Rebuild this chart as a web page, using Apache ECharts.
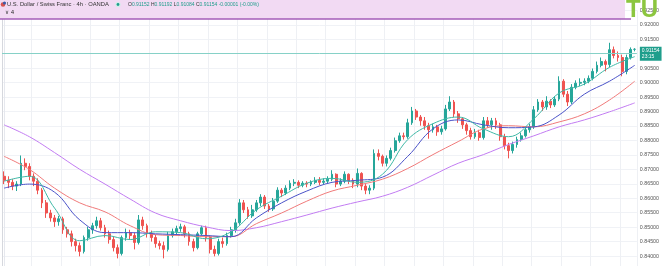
<!DOCTYPE html>
<html><head><meta charset="utf-8">
<script src="https://cdn.jsdelivr.net/npm/echarts@6/dist/echarts.min.js"></script>
<style>html,body{margin:0;padding:0;background:#fff;overflow:hidden;}#c{width:662px;height:273px;}</style>
</head><body><div id="c"></div>
<script>
const opens = [
.8676,.8662,.8655,.8642,.8649,.8721,.8710,.8676,.8659,.8628,
.8584,.8549,.8532,.8519,.8529,.8491,.8477,.8450,.8436,.8416,
.8464,.8491,.8505,.8522,.8498,.8477,.8457,.8429,.8409,.8464,
.8481,.8471,.8447,.8525,.8505,.8477,.8464,.8443,.8436,.8423,
.8471,.8484,.8495,.8501,.8477,.8450,.8429,.8477,.8498,.8464,
.8423,.8409,.8450,.8443,.8471,.8491,.8515,.8584,.8560,.8539,
.8560,.8584,.8604,.8573,.8563,.8590,.8628,.8618,.8635,.8652,
.8655,.8645,.8652,.8649,.8655,.8662,.8655,.8659,.8666,.8683,
.8649,.8659,.8683,.8662,.8649,.8686,.8642,.8628,.8635,.8755,
.8745,.8721,.8738,.8765,.8799,.8816,.8813,.8861,.8902,.8881,
.8868,.8851,.8837,.8847,.8830,.8840,.8909,.8933,.8892,.8875,
.8854,.8834,.8813,.8827,.8810,.8868,.8854,.8868,.8854,.8813,
.8782,.8765,.8786,.8803,.8816,.8837,.8847,.8906,.8933,.8916,
.8936,.8923,.8943,.9005,.8960,.8933,.8984,.8998,.9001,.9005,
.9015,.9039,.9060,.9073,.9063,.9114,.9094,.9087,.9039,.9087,
.91152];
const closes = [
.8662,.8655,.8642,.8649,.8721,.8710,.8676,.8659,.8628,.8584,
.8549,.8532,.8519,.8529,.8491,.8477,.8450,.8436,.8416,.8464,
.8491,.8505,.8522,.8498,.8477,.8457,.8429,.8409,.8464,.8481,
.8471,.8447,.8525,.8505,.8477,.8464,.8443,.8436,.8423,.8471,
.8484,.8495,.8501,.8477,.8450,.8429,.8477,.8498,.8464,.8423,
.8409,.8450,.8443,.8471,.8491,.8515,.8584,.8560,.8539,.8560,
.8584,.8604,.8573,.8563,.8590,.8628,.8618,.8635,.8652,.8655,
.8645,.8652,.8649,.8655,.8662,.8655,.8659,.8666,.8683,.8649,
.8659,.8683,.8662,.8649,.8686,.8642,.8628,.8635,.8755,.8745,
.8721,.8738,.8765,.8799,.8816,.8813,.8861,.8902,.8881,.8868,
.8851,.8837,.8847,.8830,.8840,.8909,.8933,.8892,.8875,.8854,
.8834,.8813,.8827,.8810,.8868,.8854,.8868,.8854,.8813,.8782,
.8765,.8786,.8803,.8816,.8837,.8847,.8906,.8933,.8916,.8936,
.8923,.8943,.9005,.8960,.8933,.8984,.8998,.9001,.9005,.9015,
.9039,.9060,.9073,.9063,.9114,.9094,.9087,.9039,.9087,.9115,
.91154];
const lows = [
.8649,.8635,.8628,.8625,.8642,.8697,.8662,.8642,.8614,.8566,
.8532,.8519,.8501,.8505,.8477,.8464,.8433,.8416,.8399,.8409,
.8453,.8477,.8495,.8488,.8464,.8443,.8416,.8392,.8402,.8453,
.8457,.8423,.8440,.8491,.8464,.8450,.8429,.8423,.8392,.8416,
.8464,.8474,.8484,.8464,.8436,.8416,.8423,.8471,.8450,.8409,
.8399,.8402,.8429,.8436,.8464,.8481,.8508,.8549,.8529,.8532,
.8553,.8573,.8563,.8553,.8556,.8584,.8604,.8611,.8628,.8642,
.8635,.8638,.8638,.8642,.8649,.8645,.8649,.8652,.8659,.8638,
.8642,.8652,.8649,.8635,.8638,.8628,.8614,.8614,.8628,.8731,
.8710,.8710,.8731,.8758,.8792,.8803,.8806,.8854,.8871,.8851,
.8837,.8806,.8827,.8816,.8820,.8834,.8902,.8881,.8861,.8840,
.8820,.8803,.8806,.8799,.8803,.8844,.8837,.8840,.8799,.8769,
.8738,.8755,.8775,.8796,.8810,.8827,.8840,.8899,.8902,.8906,
.8912,.8916,.8936,.8950,.8919,.8926,.8977,.8988,.8991,.8998,
.9008,.9032,.9053,.9039,.9053,.9084,.9073,.9022,.9029,.9080,
.91084];
const highs = [
.8693,.8676,.8666,.8659,.8748,.8738,.8721,.8686,.8669,.8635,
.8594,.8560,.8542,.8539,.8536,.8501,.8488,.8460,.8447,.8471,
.8501,.8515,.8536,.8532,.8508,.8488,.8467,.8440,.8471,.8495,
.8491,.8481,.8542,.8536,.8512,.8488,.8474,.8453,.8450,.8484,
.8495,.8505,.8512,.8508,.8484,.8460,.8484,.8505,.8505,.8471,
.8436,.8460,.8464,.8481,.8501,.8529,.8597,.8594,.8570,.8577,
.8594,.8614,.8611,.8580,.8601,.8638,.8635,.8645,.8662,.8666,
.8662,.8659,.8659,.8662,.8673,.8673,.8669,.8676,.8697,.8686,
.8669,.8693,.8686,.8669,.8703,.8690,.8649,.8645,.8769,.8769,
.8751,.8748,.8775,.8810,.8827,.8827,.8875,.8916,.8909,.8888,
.8881,.8861,.8858,.8854,.8851,.8923,.8953,.8940,.8902,.8881,
.8861,.8844,.8840,.8837,.8881,.8881,.8878,.8878,.8861,.8823,
.8792,.8796,.8813,.8827,.8847,.8858,.8919,.8943,.8940,.8953,
.8943,.8953,.9022,.9012,.8971,.8995,.9008,.9015,.9015,.9025,
.9049,.9073,.9087,.9080,.9138,.9125,.9108,.9097,.9097,.9122,
.91192];

// moving-average lines sampled at these candle indices
const maIndex = [0,6,12,18,24,30,36,42,48,54,60,66,72,78,84,90,96,102,108,114,120,126,132,138,144,150];
const maFast = [.8659,.8676,.8566,.8453,.8471,.8457,.8484,.8481,.8460,.8484,.8560,.8607,.8652,.8669,.8655,.8683,.8803,.8858,.8881,.8840,.8813,.8875,.8964,.8995,.9053,.9090];
const maMid  = [.8635,.8649,.8621,.8525,.8481,.8481,.8477,.8474,.8471,.8467,.8532,.8584,.8625,.8655,.8662,.8673,.8745,.8840,.8871,.8854,.8844,.8847,.8888,.8960,.9005,.9060];
const maSlow = [.8745,.8700,.8635,.8584,.8553,.8505,.8474,.8471,.8467,.8467,.8512,.8549,.8590,.8625,.8645,.8666,.8703,.8751,.8796,.8840,.8851,.8847,.8864,.8892,.8940,.9005];
const maLong = [.8854,.8813,.8758,.8700,.8649,.8597,.8549,.8522,.8501,.8488,.8498,.8519,.8542,.8566,.8587,.8607,.8638,.8680,.8721,.8751,.8786,.8816,.8847,.8871,.8899,.8930];

const yMin = 0.835, yMax = 0.925, yStep = 0.005;
const lastPrice = 0.91154, lastTime = '23:15';
const titleText = 'U.S. Dollar / Swiss Franc · 4h · OANDA';
const ohlcText = ['O', '0.91152', 'H', '0.91192', 'L', '0.91084', 'C', '0.91154', '-0.00001 (-0.00%)'];

const N = closes.length;
const categories = closes.map((_, i) => String(i));
const candles = closes.map((c, i) => [opens[i], c, lows[i], highs[i]]);
const pts = arr => maIndex.map((x, i) => [x, arr[i]]);

const chart = echarts.init(document.getElementById('c'), null, {renderer: 'canvas'});
const lineSeries = (data, color) => ({
  type: 'line', xAxisIndex: 1, yAxisIndex: 0, data: pts(data), smooth: 0.4,
  symbol: 'none', lineStyle: {color, width: 1}, z: 3, silent: true
});
chart.setOption({
  animation: false,
  grid: {left: 2, right: 25, top: 10.4, bottom: 0.2, containLabel: false},
  xAxis: [
    {type: 'category', data: categories, boundaryGap: true,
     axisLine: {show: false}, axisTick: {show: false}, axisLabel: {show: false},
     splitLine: {show: true, interval: 6, lineStyle: {color: '#eef0f4', width: 1}}},
    {type: 'value', min: -0.5, max: N - 0.5, show: false}
  ],
  yAxis: [
    {type: 'value', position: 'right', min: yMin, max: yMax, interval: yStep,
     axisLine: {show: true, lineStyle: {color: '#e6e8ee'}}, axisTick: {show: false},
     axisLabel: {fontSize: 5.3, color: '#555', margin: 3, fontFamily: 'Liberation Sans',
                 formatter: v => v.toFixed(5)},
     splitLine: {show: true, lineStyle: {color: '#f0f2f6'}}},
    {type: 'value', position: 'left', min: yMin, max: yMax, axisLabel: {show: false},
     axisTick: {show: false}, splitLine: {show: false},
     axisLine: {show: true, lineStyle: {color: '#d6d8de'}}}
  ],
  series: [
    lineSeries(maLong, '#c27cf2'),
    lineSeries(maSlow, '#f07a7a'),
    lineSeries(maMid, '#4a52c8'),
    lineSeries(maFast, '#3fb8a6'),
    {type: 'candlestick', data: candles, barWidth: '55%', z: 2,
     itemStyle: {color: '#26a69a', color0: '#ef5350', borderColor: '#26a69a', borderColor0: '#ef5350', borderWidth: 1},
     markLine: {symbol: 'none', silent: true, animation: false,
       data: [{yAxis: lastPrice, lineStyle: {color: '#86d1c7', type: 'solid', width: 1}}],
       lineStyle: {color: '#86d1c7', type: 'solid', width: 1},
       emphasis: {disabled: true},
       label: {position: 'end', distance: 3, formatter: lastPrice.toFixed(5) + '\n' + lastTime,
               backgroundColor: '#1f9e8c', color: '#fff', fontSize: 5, lineHeight: 6,
               padding: [1, 2, 1, 2], fontFamily: 'Liberation Sans', align: 'left'}}}
  ],
  graphic: [
    {type: 'rect', z: 100, shape: {x: 0, y: 0, width: 625, height: 19}, style: {fill: '#f2daf3'}},
    {type: 'line', z: 101, shape: {x1: 0, y1: 19, x2: 631, y2: 19}, style: {stroke: '#a45cb8', lineWidth: 1.5}},
    {type: 'circle', z: 102, shape: {cx: 3, cy: 4.5, r: 2.3}, style: {fill: '#d9534f'}},
    {type: 'circle', z: 103, shape: {cx: 4.5, cy: 3, r: 1.6}, style: {fill: '#3b5ba9'}},
    {type: 'text', z: 102, x: 7, y: 1.8, style: {text: titleText, fontSize: 5.8, fill: '#333', fontFamily: 'Liberation Sans'}},
    {type: 'circle', z: 102, shape: {cx: 118, cy: 4.5, r: 2.6}, style: {fill: '#cfeee9'}},
    {type: 'circle', z: 103, shape: {cx: 118, cy: 4.5, r: 1.4}, style: {fill: '#1f9e8c'}},
    {type: 'text', z: 102, x: 128, y: 2.2, style: {
      text: `{k|${ohlcText[0]}}{v|${ohlcText[1]}} {k|${ohlcText[2]}}{v|${ohlcText[3]}} {k|${ohlcText[4]}}{v|${ohlcText[5]}} {k|${ohlcText[6]}}{v|${ohlcText[7]}} {v|${ohlcText[8]}}`,
      fontSize: 5, fontFamily: 'Liberation Sans',
      rich: {k: {fill: '#333', fontSize: 5}, v: {fill: '#1f9e8c', fontSize: 5}}}},
    {type: 'text', z: 102, x: 5, y: 10, style: {text: '∨ 4', fontSize: 5.5, fill: '#333', fontFamily: 'DejaVu Sans'}},
    {type: 'text', z: 104, x: 626, y: -2, style: {text: 'TU', fontSize: 24, fontWeight: 'bold', fill: '#8cc63f', fontFamily: 'Liberation Sans'}}
  ]
});
</script></body></html>
